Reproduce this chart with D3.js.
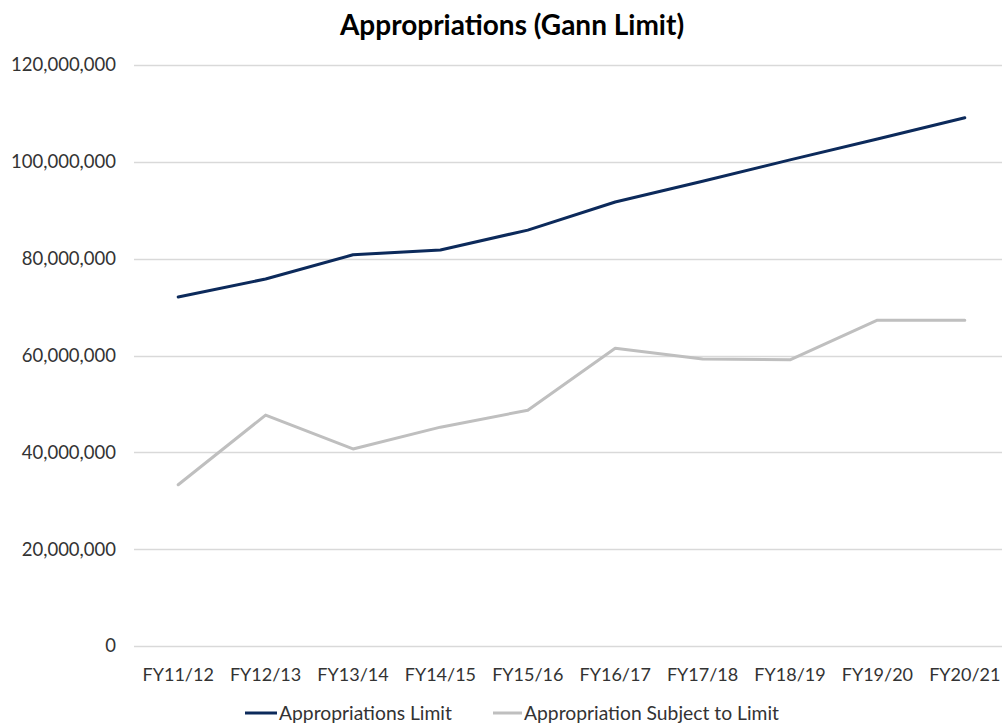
<!DOCTYPE html>
<html><head><meta charset="utf-8">
<script src="https://cdn.jsdelivr.net/npm/d3@7"></script>
<style>html,body{margin:0;padding:0;background:#fff;} svg{display:block;}</style>
</head><body>
<script>
const categories = ["FY11/12","FY12/13","FY13/14","FY14/15","FY15/16","FY16/17","FY17/18","FY18/19","FY19/20","FY20/21"];
const appropriationsLimit = [72100000,75800000,80800000,81800000,85900000,91700000,96000000,100400000,104700000,109100000];
const subjectToLimit = [33300000,47700000,40700000,45200000,48700000,61500000,59300000,59100000,67300000,67300000];
const yTicks = [0,20000000,40000000,60000000,80000000,100000000,120000000];
const seriesNames = ["Appropriations Limit","Appropriation Subject to Limit"];
const colors = ["#0c2a5b","#bfbfbf"];

const W=1002,H=724;
const font="Lato, 'Open Sans', sans-serif";
const svg=d3.select("body").append("svg").attr("width",W).attr("height",H);
const x=d3.scaleBand().domain(categories).range([134.5,1008.5]);
const y=d3.scaleLinear().domain([0,120000000]).range([646,65]);
const cx=d=>x(d)+x.bandwidth()/2;

svg.append("text").attr("x",512).attr("y",35).attr("text-anchor","middle")
  .attr("font-family",font).attr("font-weight","bold").attr("font-size",28).attr("fill","#000")
  .text("Appropriations (Gann Limit)");

const grid=svg.append("g");
grid.selectAll("line").data(yTicks).join("line")
  .attr("x1",134).attr("x2",W).attr("y1",d=>Math.round(y(d))+0.5).attr("y2",d=>Math.round(y(d))+0.5)
  .attr("stroke","#d9d9d9").attr("stroke-width",1.3);

const fmt=d3.format(",");
svg.append("g").selectAll("text").data(yTicks).join("text")
  .attr("x",116).attr("y",d=>y(d)).attr("dy","0.35em").attr("text-anchor","end")
  .attr("font-family",font).attr("font-size",18.5).attr("fill","#333").text(d=>fmt(d));

svg.append("g").selectAll("text").data(categories).join("text")
  .attr("x",d=>cx(d)).attr("y",675).attr("dy","0.35em").attr("text-anchor","middle")
  .attr("font-family",font).attr("font-size",18).attr("fill","#333").text(d=>d);

const line=d3.line().x((d,i)=>cx(categories[i])).y(d=>y(d));
[subjectToLimit,appropriationsLimit].forEach((s,k)=>{
  svg.append("path").datum(s).attr("d",line).attr("fill","none")
    .attr("stroke",k===0?colors[1]:colors[0]).attr("stroke-width",3).attr("stroke-linecap","round").attr("stroke-linejoin","round");
});

const leg=[{x:245,tx:279,name:seriesNames[0],c:colors[0]},{x:493,tx:524,name:seriesNames[1],c:colors[1]}];
const lg=svg.append("g");
leg.forEach(l=>{
  lg.append("line").attr("x1",l.x).attr("x2",l.tx-2).attr("y1",713).attr("y2",713).attr("stroke",l.c).attr("stroke-width",3);
  lg.append("text").attr("x",l.tx).attr("y",713).attr("dy","0.35em").attr("font-family",font).attr("font-size",19.3).attr("fill","#333").text(l.name);
});
</script>
</body></html>
